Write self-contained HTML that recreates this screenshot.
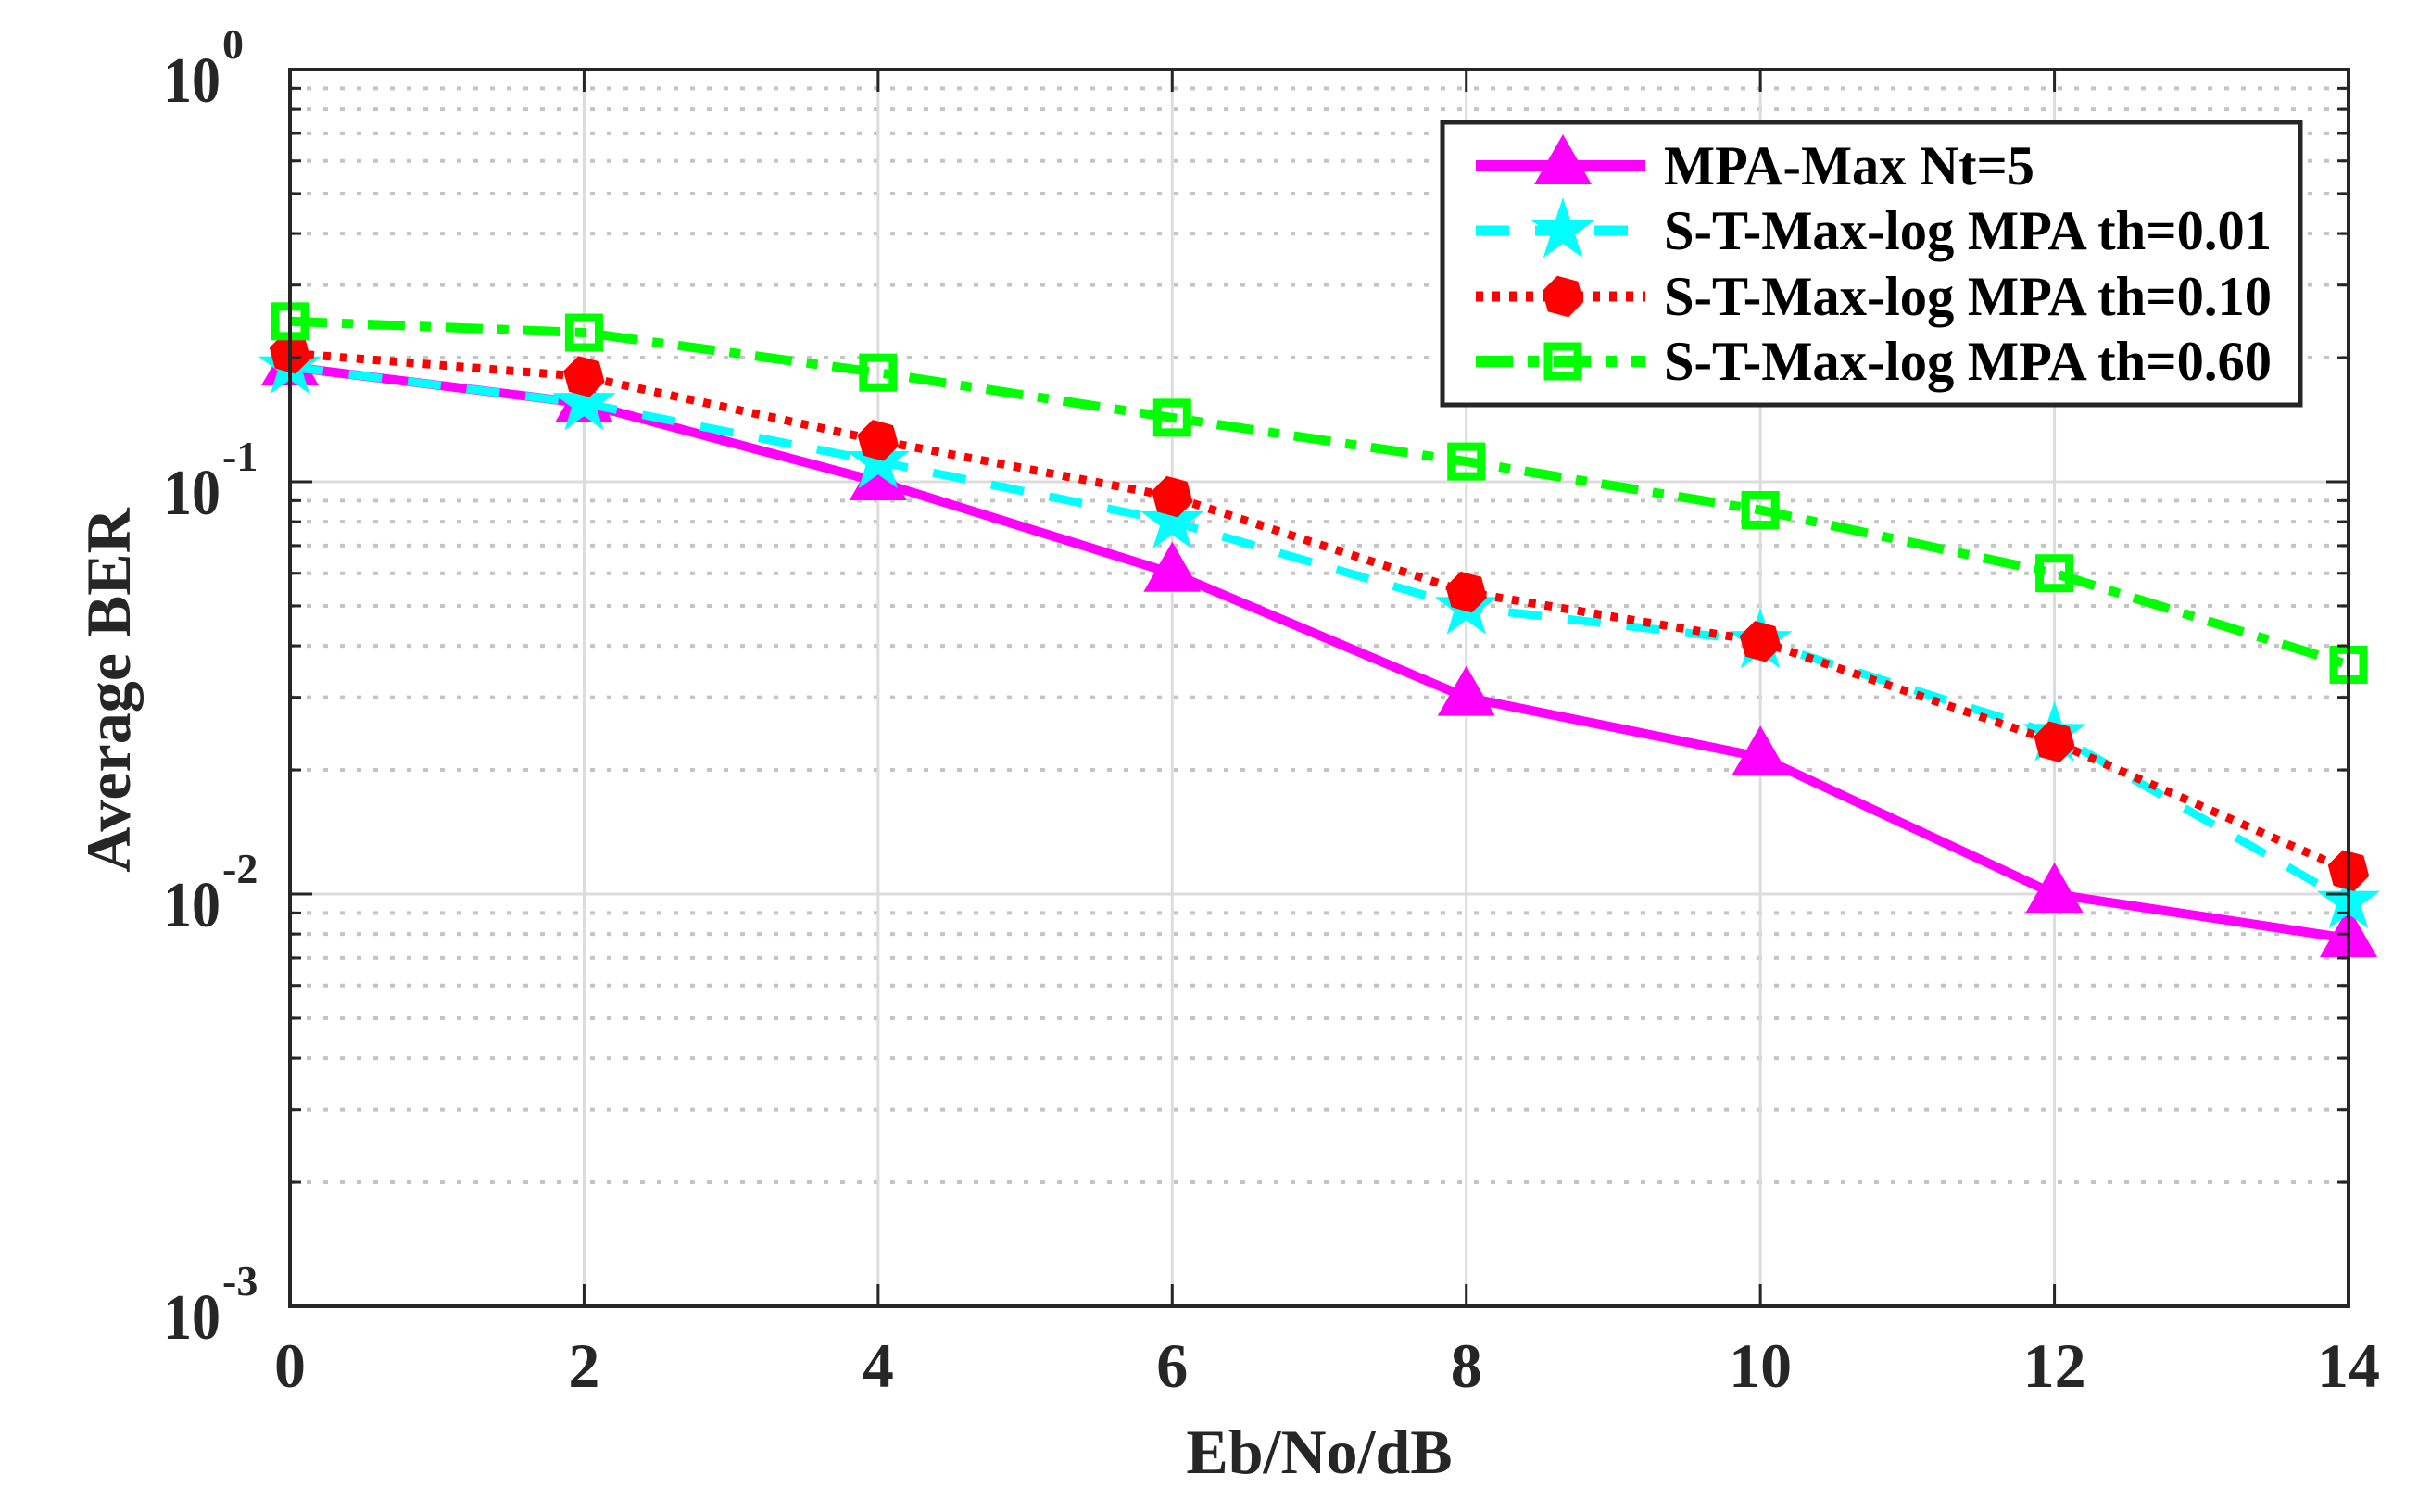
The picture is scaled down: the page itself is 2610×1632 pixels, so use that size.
<!DOCTYPE html>
<html><head><meta charset="utf-8"><style>
html,body{margin:0;padding:0;background:#fff;}
svg{display:block;font-family:"Liberation Serif",serif;font-weight:bold;}
</style></head><body>
<svg id="chart" width="2610" height="1632" viewBox="0 0 2610 1632" xmlns="http://www.w3.org/2000/svg">
<rect x="0" y="0" width="2610" height="1632" fill="#fff"/>
<g id="grid"></g>
<g id="series"></g>
<g id="axes"></g>
<g id="legend"></g>
</svg>
<script>
const xValues = [0, 2, 4, 6, 8, 10, 12, 14];
const xTickLabels = ["0","2","4","6","8","10","12","14"];
const yTickExps = [0, -1, -2, -3];
const berMpaMax = [0.19, 0.155, 0.10, 0.060, 0.030, 0.0215, 0.0100, 0.0078];
const berTh001 = [0.19, 0.155, 0.112, 0.080, 0.0496, 0.041, 0.0244, 0.0096];
const berTh010 = [0.205, 0.180, 0.126, 0.092, 0.054, 0.041, 0.0234, 0.0114];
const berTh060 = [0.245, 0.230, 0.184, 0.143, 0.112, 0.0854, 0.060, 0.036];
const legendLabels = ["MPA-Max Nt=5","S-T-Max-log MPA th=0.01","S-T-Max-log MPA th=0.10","S-T-Max-log MPA th=0.60"];

const L=313, R=2535, T=75, B=1410;
const xMin=0, xMax=14, yMinExp=-3, yMaxExp=0;
const NS="http://www.w3.org/2000/svg";
function sx(v){return L+(v-xMin)/(xMax-xMin)*(R-L);}
function sy(v){return B-(Math.log10(v)-yMinExp)/(yMaxExp-yMinExp)*(B-T);}
function mk(tag,attrs,parent){const e=document.createElementNS(NS,tag);for(const k in attrs)e.setAttribute(k,attrs[k]);if(parent)parent.appendChild(e);return e;}
const grid=document.getElementById('grid'),axes=document.getElementById('axes'),series=document.getElementById('series'),legend=document.getElementById('legend');

for(let e=yMinExp;e<yMaxExp;e++){
  for(let m=2;m<=9;m++){
    const y=sy(m*Math.pow(10,e));
    const g=mk('line',{x1:L,x2:R,y1:y,y2:y,stroke:'#c4c4c4','stroke-width':4,'stroke-dasharray':'5 13'},grid);
    
    
    for(const [a,b] of [[L,L+12],[R-12,R]]){const t=mk('line',{x1:a,x2:b,y1:y,y2:y,stroke:'#262626','stroke-width':3},axes);
      
      }
  }
}
yTickExps.forEach(e=>{
  const y=sy(Math.pow(10,e));
  const g=mk('line',{x1:L,x2:R,y1:y,y2:y,stroke:'#dcdcdc','stroke-width':3},grid);
  
  
  for(const [a,b] of [[L,L+24],[R-24,R]]){const t=mk('line',{x1:a,x2:b,y1:y,y2:y,stroke:'#262626','stroke-width':3},axes);
    
    }
  const tx=mk('text',{x:238,y:y+35,'font-size':70,'text-anchor':'end',fill:'#262626',textLength:62,lengthAdjust:'spacingAndGlyphs'},axes);
  tx.textContent='10';
  
  
  const ex=mk('text',{x:240,y:y-12,'font-size':46,fill:'#262626'},axes);
  ex.textContent=String(e);
  
  
});
xValues.forEach((v,i)=>{
  const x=sx(v);
  const g=mk('line',{x1:x,x2:x,y1:T,y2:B,stroke:'#dcdcdc','stroke-width':3},grid);
  
  
  for(const [a,b] of [[B-24,B],[T,T+24]]){const t=mk('line',{x1:x,x2:x,y1:a,y2:b,stroke:'#262626','stroke-width':3},axes);
    
    }
  const tx=mk('text',{x:x,y:1497,'font-size':68,'text-anchor':'middle',fill:'#262626'},axes);
  tx.textContent=xTickLabels[i];
  
  
});
const frame=mk('rect',{x:L,y:T,width:R-L,height:B-T,fill:'none',stroke:'#262626','stroke-width':4},axes);


const xt=mk('text',{x:(L+R)/2,y:1590,'font-size':68,'text-anchor':'middle',fill:'#262626'},axes);
xt.textContent='Eb/No/dB';


const yt=mk('text',{x:0,y:0,'font-size':68,'text-anchor':'middle',fill:'#262626',transform:'translate(140,745) rotate(-90)'},axes);
yt.textContent='Average BER';



function marker(kind,cx,cy,parent){
  if(kind==='tri'){return mk('polygon',{points:`${cx},${cy-34} ${cx+31},${cy+20} ${cx-31},${cy+20}`,fill:'#ff00ff'},parent);}
  if(kind==='star'){let p=[];for(let k=0;k<10;k++){const r=k%2?14:36;const a=-Math.PI/2+k*Math.PI/5;p.push((cx+r*Math.cos(a)).toFixed(1)+','+(cy+r*Math.sin(a)).toFixed(1));}
    return mk('polygon',{points:p.join(' '),fill:'#00ffff'},parent);}
  if(kind==='oct'){let p=[];for(let k=0;k<12;k++){const a=k*Math.PI/6+Math.PI/12;const r=k%2?20:23;p.push((cx+r*Math.cos(a)).toFixed(1)+','+(cy+r*Math.sin(a)).toFixed(1));}
    return mk('polygon',{points:p.join(' '),fill:'#ff0000'},parent);}
  return mk('rect',{x:cx-16,y:cy-16,width:32,height:32,fill:'none',stroke:'#00ff00','stroke-width':9},parent);
}
const defs=[
 {data:berMpaMax,color:'#ff00ff',w:10,dash:'',m:'tri',name:'mpa-max'},
 {data:berTh001,color:'#00ffff',w:9,dash:'36 28',m:'star',name:'th-0-01'},
 {data:berTh010,color:'#ff0000',w:9,dash:'8 10',m:'oct',name:'th-0-10'},
 {data:berTh060,color:'#00ff00',w:10,dash:'40 16 12 16',m:'sq',name:'th-0-60'}
];
defs.forEach(d=>{
  const g=mk('g',{},series);
  
  
  const pts=d.data.map((v,i)=>sx(xValues[i]).toFixed(1)+','+sy(v).toFixed(1)).join(' ');
  const pl=mk('polyline',{points:pts,fill:'none',stroke:d.color,'stroke-width':d.w,'stroke-dasharray':d.dash},g);
  
  
  d.data.forEach((v,i)=>{
    const m=marker(d.m,sx(xValues[i]),sy(v),g);
    
    
  });
});

const lb=mk('rect',{x:1557,y:132,width:926,height:305,fill:'#fff',stroke:'#262626','stroke-width':5},legend);


const rows=[179,249,320,390];
defs.forEach((d,i)=>{
  const y=rows[i];
  const g=mk('g',{},legend);
  
  
  const ln=mk('line',{x1:1593,x2:1776,y1:y,y2:y,stroke:d.color,'stroke-width':d.w+2,'stroke-dasharray':d.dash},g);
  
  
  const m=marker(d.m,1687,y,g);
  
  
  const t=mk('text',{x:1796,y:y+20,'font-size':60,fill:'#000'},g);
  t.textContent=legendLabels[i];
  if(i===0){t.setAttribute('textLength',400);}else{t.setAttribute('textLength',656);}
  t.setAttribute('lengthAdjust','spacingAndGlyphs');
  
  
});
</script>
</body></html>
